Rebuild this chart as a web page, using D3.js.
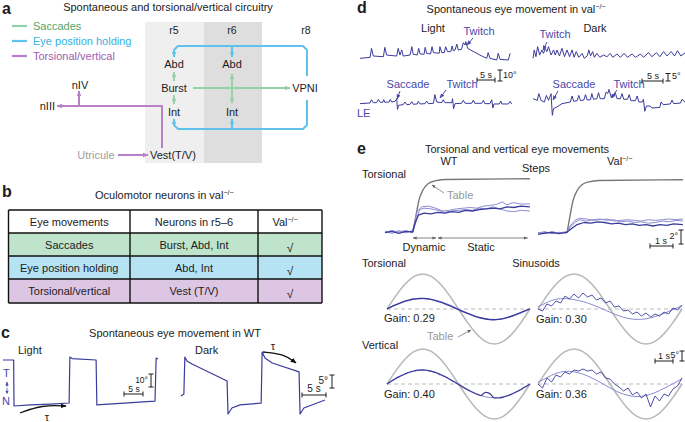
<!DOCTYPE html>
<html><head><meta charset="utf-8">
<script src="https://cdn.jsdelivr.net/npm/d3@7"></script>
<style>
html,body{margin:0;padding:0;background:#fff;}
svg text{font-family:"Liberation Sans",Arial,Helvetica,sans-serif;}
</style></head>
<body><svg id="fig" width="685" height="422"></svg>
<script>
// ================= DATA =================
// panel a
const legendItems = ["Saccades", "Eye position holding", "Torsional/vertical"];
const rhombomeres = ["r5", "r6", "r8"];
// panel b
const tableHeader = ["Eye movements", "Neurons in r5–6", "Val"];
const tableMovements = ["Saccades", "Eye position holding", "Torsional/vertical"];
const tableNeurons = ["Burst, Abd, Int", "Abd, Int", "Vest (T/V)"];
const tableValMark = ["√", "√", "√"];
// panel c : [time (s), eye position (deg)]
const wtLight = [[0,35.4],[2.8,35.4],[2.9,0],[7.1,0.8],[12.4,1.5],[17.4,2.3],[17.6,37.7],[18.2,36.5],[24.5,35.4],[24.7,0.8],[40,3.8],[40.3,36.9],[40.8,36.2]];
const wtDark = [[0,6.9],[0.6,7.7],[0.8,21.9],[1.25,20.4],[2.3,19.2],[9.6,12.7],[9.8,0],[10.6,2.3],[12.3,3.5],[16.7,4.2],[16.9,23.8],[17.5,21.5],[19,19.6],[24.6,16.2],[24.8,0],[25.6,2.3],[30,5.4]];
// panel d : [time (s), eye position (deg)]
const valLightTop = [[0,1.5],[2.8,2.4],[3.2,10.6],[3.7,3.6],[6.5,3],[6.9,11.5],[7.4,4.5],[10.2,3.6],[10.6,10.6],[11.1,4.5],[11.6,9.1],[12,3.6],[13.9,4.5],[14.4,12.1],[14.8,5.2],[15.9,4.5],[16.3,10.6],[16.7,5.5],[17.8,5.2],[18.1,11.5],[18.5,6.1],[19.6,5.5],[20,12.1],[20.4,6.7],[22,6.1],[22.2,12.1],[22.7,6.7],[23.4,6.7],[23.8,12.1],[24.3,7.6],[25.2,7.6],[25.6,12.7],[25.9,8.5],[26.4,9.1],[26.9,14.5],[27.3,9.1],[28.2,9.7],[28.7,15.8],[29.2,13.6],[29.4,16.7],[29.9,10.6],[33.3,4.5],[35.2,1.5],[35.6,6.7],[36.1,1.5],[38,0],[38.4,6.1],[38.9,0.6],[41.2,0],[41.7,6.1]];
const valLightBottom = [[0,-1.5],[2.8,-0.9],[3.2,2.1],[3.7,-0.6],[4.6,-0.6],[5.1,2.4],[5.6,-0.3],[6.3,-0.3],[6.6,2.1],[6.9,-0.3],[8.1,0],[8.4,2.4],[8.8,0],[9.7,0.6],[10.2,3],[10.4,-6.7],[10.7,-3],[12,-2.4],[12.5,0],[13,-2.4],[13.9,-2.1],[14.4,0.3],[14.8,-2.1],[15.9,-1.8],[16.2,0.6],[16.7,-1.8],[18.1,-1.5],[18.5,0.9],[19,-1.5],[20.4,-1.2],[20.8,6.7],[21.3,0],[22.7,-0.6],[23.1,2.1],[23.6,-0.6],[25.5,-0.6],[25.7,3],[26,-6.1],[26.4,-1.5],[28.2,-1.2],[28.7,1.5],[29.2,-1.2],[31,-1.2],[31.5,1.8],[31.9,-1.2],[33.8,-1.2],[34.3,1.5],[34.7,-1.5],[36.1,-1.5],[36.6,2.1],[36.9,-5.5],[37.2,-1.8],[38.7,-1.8],[39.1,0.9],[39.4,-1.8],[41.2,-1.8],[41.7,0.6],[42.1,-1.8]];
const valDarkTop = [[0,1.1],[0.3,6.7],[0.7,2.2],[1.1,8.9],[1.6,3.3],[2.1,6.7],[2.5,4.4],[2.9,7.8],[3.3,5.6],[3.7,8.9],[4.3,3.3],[4.9,6.7],[5.3,3.3],[5.7,6.7],[6.3,2.7],[6.9,7.8],[7.5,2.2],[8.1,6.7],[8.7,2.2],[9.3,6.7],[9.8,1.8],[10.3,5.6],[10.9,1.8],[11.7,4.4],[12.2,1.1],[12.9,2.7],[13.3,6.7],[13.7,2.7],[14.2,5.6],[14.6,1.8],[15.2,4.4],[15.9,1.8],[16.8,3.3],[17.6,2.2],[18.4,4.4],[19,1.8],[20,4],[20.8,1.8],[21.7,4.4],[22.5,1.8],[23.6,4],[24.4,1.8],[25.6,4],[26.3,1.8],[27.5,4.9],[28.3,2.2],[29.4,4.9],[30.2,2.2],[31.1,5.6],[31.9,2.7],[32.9,5.6],[33.7,2.7],[34.4,6.2],[35.2,2.7],[36.3,4.9]];
const valDarkBottom = [[0,2.2],[1,1.1],[1.4,5.6],[1.9,1.1],[2.7,0],[3.2,4.4],[3.7,1.1],[4,3.3],[4.3,5.6],[4.6,-8.9],[4.9,-4.4],[5.7,-3.3],[6.9,-1.1],[8.9,0],[9.3,4],[9.7,0.4],[10.5,0.9],[10.9,4.4],[11.3,0.9],[12.1,1.3],[12.5,4.9],[12.9,1.3],[13.7,1.6],[14,5.6],[14.4,1.8],[15.2,2.2],[15.6,6.2],[16,2.2],[17,2.2],[17.4,6.7],[17.8,5.6],[18.1,8.4],[18.6,3.3],[19.2,3.3],[19.6,6.2],[20,2.2],[20.8,2.2],[21.2,5.6],[21.6,1.8],[22.5,1.8],[22.9,4.9],[23.3,0.9],[24.4,0.9],[24.8,4],[25.2,0],[26,0],[26.3,1.8],[26.6,-6.2],[27,-2.7],[27.9,-2.7],[28.3,-4],[30.2,-3.6],[30.5,0],[31,-1.8],[32.7,-1.3],[33.1,1.3],[33.5,-1.1],[35.1,-0.7],[35.5,1.8],[36.3,-0.4]];
// panel e, steps : [time (s), position (deg)]
const stepTableWT = [[1.22,0],[1.35,2.4],[1.48,4.6],[1.65,6.0],[1.87,6.9],[2.17,7.3],[2.6,7.5],[6.3,7.6]];
const stepTableVal = [[1.26,0],[1.39,2.4],[1.52,4.6],[1.69,6.0],[1.91,6.9],[2.21,7.3],[2.66,7.5],[6.3,7.6]];
const stepWT1 = [[0,0.1],[0.3,-0.2],[0.6,0.2],[0.9,-0.1],[1.2,0.2],[1.3,1.5],[1.4,3],[1.6,3.6],[1.9,3.7],[2.2,3.4],[2.5,3.0],[2.8,3.1],[3.1,3.3],[3.4,3.4],[3.7,3.5],[4.0,3.4],[4.3,3.7],[4.6,3.8],[4.9,4.0],[5.1,4.3],[5.3,3.9],[5.6,4.2],[5.9,4.0],[6.3,4.0]];
const stepWT2 = [[0,-0.1],[0.3,0.1],[0.6,-0.2],[0.9,0.1],[1.2,0],[1.3,1.2],[1.45,2.4],[1.7,2.7],[2.0,2.6],[2.3,2.8],[2.6,2.7],[2.9,2.9],[3.2,2.8],[3.5,3.1],[3.8,3.0],[4.1,3.2],[4.4,3.3],[4.7,3.4],[5.0,3.3],[5.3,3.6],[5.6,3.5],[5.9,3.7],[6.3,3.6]];
const stepWT3 = [[0,0],[0.3,0.2],[0.6,0],[0.9,0.2],[1.2,-0.1],[1.35,1.5],[1.5,3.2],[1.7,3.4],[2.0,3.3],[2.3,3.1],[2.6,2.8],[2.9,3.0],[3.2,3.1],[3.5,3.2],[3.8,3.1],[4.1,3.4],[4.4,3.3],[4.7,3.6],[5.0,3.3],[5.3,3.0],[5.6,2.9],[5.9,3.1],[6.3,3.0]];
const stepVal1 = [[0,0],[0.3,0.2],[0.6,-0.1],[0.9,0.1],[1.25,0],[1.4,0.8],[1.6,1.5],[1.8,1.9],[2.1,1.7],[2.4,1.9],[2.7,2.0],[3.0,1.8],[3.3,1.9],[3.6,1.6],[3.9,1.7],[4.2,1.5],[4.5,1.6],[4.8,1.4],[5.1,1.5],[5.4,1.7],[5.7,1.6],[6.0,1.8],[6.3,1.7]];
const stepVal2 = [[0,-0.2],[0.3,0],[0.6,0.1],[0.9,-0.1],[1.25,0.1],[1.45,0.6],[1.7,1.2],[2.0,1.5],[2.3,1.4],[2.6,1.6],[2.9,1.5],[3.2,1.3],[3.5,1.4],[3.8,1.2],[4.1,1.3],[4.4,1.1],[4.7,1.2],[5.0,1.0],[5.3,1.2],[5.6,1.1],[5.9,1.3],[6.3,1.2]];
const stepVal3 = [[0,0.1],[0.3,-0.1],[0.6,0.2],[0.9,0],[1.25,0.2],[1.4,1.0],[1.6,1.8],[1.8,2.1],[2.1,2.0],[2.4,1.8],[2.7,1.9],[3.0,2.0],[3.3,1.7],[3.6,1.8],[3.9,1.9],[4.2,1.8],[4.5,1.7],[4.8,1.9],[5.1,1.8],[5.4,1.9],[5.7,2.0],[6.0,1.9],[6.3,2.0]];
// panel e, sinusoids
const sineT = [0,0.5,1,1.5,2,2.5,3,3.5,4,4.5,5,5.5,6,6.5,7,7.5,8];
const sineTable = [0,6.70,12.37,16.17,17.5,16.17,12.37,6.70,0,-6.70,-12.37,-16.17,-17.5,-16.17,-12.37,-6.70,0];
const dataT = [0,0.25,0.5,0.75,1,1.25,1.5,1.75,2,2.25,2.5,2.75,3,3.25,3.5,3.75,4,4.25,4.5,4.75,5,5.25,5.5,5.75,6,6.25,6.5,6.75,7,7.25,7.5,7.75,8];
const torWT = [0.1,1.2,2.2,3.1,3.9,4.5,5.0,5.2,5.3,5.1,4.7,4.1,3.4,2.6,1.7,0.7,-0.3,-1.3,-2.2,-3.1,-3.9,-4.5,-5.0,-5.3,-5.4,-5.2,-4.8,-4.2,-3.5,-2.6,-1.7,-0.8,0.1];
const torWTFit = [0,2.0,3.7,4.8,5.2,4.8,3.7,2.0,0,-2.0,-3.7,-4.8,-5.2,-4.8,-3.7,-2.0,0];
const verWT = [0,1.5,2.9,4.0,5.0,5.9,6.5,6.9,7.1,6.8,6.3,5.6,4.6,3.6,2.4,1.1,-0.2,-1.6,-2.9,-4.0,-5.0,-5.8,-4.2,-4.8,-6.9,-7.0,-6.6,-5.9,-5.0,-3.9,-2.7,-1.4,0];
const verWTFit = [0,2.6,4.9,6.4,6.9,6.4,4.9,2.6,0,-2.6,-4.9,-6.4,-6.9,-6.4,-4.9,-2.6,0];
const torVal = [0,-1,2.5,1.5,4.0,3.0,6.5,5.0,7.5,5.5,8.0,6.0,7.0,4.5,5.5,3.0,4.0,1.0,1.5,-1.0,-0.5,-2.5,-1.5,-3.5,-2.0,-4.0,-2.5,-3.5,-1.5,-2.5,0.5,-0.5,2.0];
const torValFit = [1.1,3.3,4.9,5.2,4.7,3.7,2.2,0.4,-1.6,-3.4,-4.7,-5.2,-4.9,-3.8,-2.2,-0.3,1.6];
const verVal = [0,-2,3,1,4.5,3.5,6,5,7,6.5,7.5,6.5,7,5.0,6.0,3.0,2.5,0,-1.5,-3.5,-2.0,-5.5,-4.0,-7.0,-5.0,-11.5,-6.0,-8.5,-5.0,-6.0,-2.5,-1.0,3.0];
const verValFit = [0.8,3.2,5.3,6.3,6.1,4.9,3.0,0.6,-1.9,-4.2,-5.7,-6.3,-5.8,-4.3,-2.2,0.2,2.6];
const gains = ["0.29", "0.30", "0.40", "0.36"];

// ================= DRAWING =================
const svg = d3.select("#fig");
const INK = "#1c1c1c", TRACE = "#3b3b9d", TRACE_L = "#8c8cd2", LABEL = "#4848aa";
const GREEN = "#93d1a6", BLUE = "#5fc2ea", PURPLE = "#b97fc8";
const defs = svg.append("defs");
function mk(id, color, w) {
  defs.append("marker").attr("id", id).attr("viewBox", "0 0 10 10")
    .attr("refX", 9).attr("refY", 5).attr("markerWidth", w).attr("markerHeight", w)
    .attr("markerUnits", "userSpaceOnUse").attr("orient", "auto-start-reverse")
    .append("path").attr("d", "M0,1 L10,5 L0,9 z").attr("fill", color);
}
mk("mG", GREEN, 6); mk("mB", BLUE, 6); mk("mP", PURPLE, 6); mk("mGray", "#999", 6);
mk("mK", "#111", 6); mk("mL", LABEL, 5); mk("mD", "#666", 4); mk("mT", LABEL, 4);

function T(x, y, s, o = {}) {
  const t = svg.append("text").attr("x", x).attr("y", y).text(s)
    .style("font-size", (o.size || 11) + "px").attr("fill", o.fill || INK)
    .attr("text-anchor", o.anchor || "start");
  if (o.weight) t.style("font-weight", o.weight);
  return t;
}
function sup(t, s) { t.append("tspan").attr("dy", -4).style("font-size", "7px").text(s); return t; }
function P(pts, color, w, o = {}) {
  const p = svg.append("path").attr("d", (o.gen || d3.line())(pts)).attr("fill", "none")
    .attr("stroke", color).attr("stroke-width", w).attr("stroke-linejoin", "round");
  if (o.end) p.attr("marker-end", `url(#${o.end})`);
  if (o.start) p.attr("marker-start", `url(#${o.start})`);
  if (o.dash) p.attr("stroke-dasharray", o.dash);
  if (o.op) p.attr("opacity", o.op);
  return p;
}
function traceLine(sx, sy, curve) { return d3.line().x(d => sx(d[0])).y(d => sy(d[1])).curve(curve || d3.curveLinear); }
function hBar(x0, len, y, col) { P([[x0, y], [x0 + len, y]], col, 1); P([[x0, y - 2.5], [x0, y + 2.5]], col, 1); P([[x0 + len, y - 2.5], [x0 + len, y + 2.5]], col, 1); }
function vBar(x, y0, len, col) { P([[x, y0], [x, y0 + len]], col, 1); P([[x - 2.5, y0], [x + 2.5, y0]], col, 1); P([[x - 2.5, y0 + len], [x + 2.5, y0 + len]], col, 1); }

// ---------- panel a ----------
T(2, 14, "a", { size: 16, weight: "bold" });
T(168, 11, "Spontaneous and torsional/vertical circuitry", { anchor: "middle" });
const legendColors = [[GREEN, "#55a466"], [BLUE, "#34b0e2"], [PURPLE, "#a05ab2"]];
legendItems.forEach((s, i) => {
  P([[12, 26 + i * 15], [27, 26 + i * 15]], legendColors[i][0], 2.2);
  T(33, 30 + i * 15, s, { fill: legendColors[i][1], size: 11 });
});
svg.append("rect").attr("x", 145).attr("y", 22).attr("width", 59).attr("height", 141).attr("fill", "#efefef");
svg.append("rect").attr("x", 204).attr("y", 22).attr("width", 58).attr("height", 141).attr("fill", "#dedede");
[174, 232, 306].forEach((x, i) => T(x, 34, rhombomeres[i], { anchor: "middle", size: 10.5 }));
// blue loop
P([[307, 76], [307, 50], [303, 46], [178, 46], [174, 50], [174, 57]], BLUE, 2, { end: "mB" });
P([[232, 46], [232, 57]], BLUE, 2, { end: "mB" });
P([[307, 100], [307, 125], [303, 129], [178, 129], [174, 125], [174, 119]], BLUE, 2, { end: "mB" });
P([[232, 129], [232, 119]], BLUE, 2, { end: "mB" });
// green
P([[174, 81], [174, 72]], GREEN, 1.8, { end: "mG" });
P([[174, 95], [174, 104]], GREEN, 1.8, { end: "mG" });
P([[193, 88], [290, 88]], GREEN, 1.8, { end: "mG" });
P([[232, 74], [232, 103]], GREEN, 1.8, { end: "mG", start: "mG" });
// purple
P([[162, 148], [162, 106], [57, 106]], PURPLE, 2, { end: "mP" });
P([[79, 106], [79, 91]], PURPLE, 2, { end: "mP" });
P([[118, 155], [148, 155]], PURPLE, 2, { end: "mP" });
T(174, 68, "Abd", { anchor: "middle" }); T(174, 92, "Burst", { anchor: "middle" }); T(174, 116, "Int", { anchor: "middle" });
T(232, 68, "Abd", { anchor: "middle" }); T(232, 116, "Int", { anchor: "middle" });
T(305, 92, "VPNI", { anchor: "middle" });
T(55, 110, "nIII", { anchor: "end" }); T(80, 89, "nIV", { anchor: "middle" });
T(96, 159, "Utricule", { anchor: "middle", fill: "#a0a0a0" });
T(150, 159, "Vest(T/V)");

// ---------- panel b ----------
T(2, 197, "b", { size: 16, weight: "bold" });
sup(T(95, 199, "Oculomotor neurons in val"), "−/−");
const colX = [8.5, 130, 258, 322], rowY = [210, 233, 256, 279, 303];
const rowFill = ["#fff", "#bfe4cc", "#b5e3f4", "#ddc5e4"];
rowFill.forEach((f, r) => svg.append("rect").attr("x", colX[0]).attr("y", rowY[r]).attr("width", colX[3] - colX[0]).attr("height", rowY[r + 1] - rowY[r]).attr("fill", f));
rowY.forEach(y => P([[colX[0], y], [colX[3], y]], "#111", 1.4));
colX.forEach(x => P([[x, rowY[0]], [x, rowY[4]]], "#111", 1.4));
const cc = [0, 1, 2].map(i => (colX[i] + colX[i + 1]) / 2);
T(cc[0], 226, tableHeader[0], { anchor: "middle" });
T(cc[1], 226, tableHeader[1], { anchor: "middle" });
sup(T(cc[2] - 5, 226, tableHeader[2], { anchor: "middle" }), "−/−");
for (let r = 0; r < 3; r++) {
  const y = rowY[r + 1] + 16;
  T(cc[0], y, tableMovements[r], { anchor: "middle" });
  T(cc[1], y, tableNeurons[r], { anchor: "middle" });
  T(cc[2], y + 3, tableValMark[r], { anchor: "middle", size: 12 });
}

// ---------- panel c ----------
T(1, 338, "c", { size: 16, weight: "bold" });
T(175, 337, "Spontaneous eye movement in WT", { anchor: "middle" });
T(18, 354, "Light"); T(195, 354, "Dark");
T(3, 377, "T", { fill: LABEL, size: 11 }); T(2, 405, "N", { fill: LABEL, size: 11 });
P([[7, 382], [7, 394]], LABEL, 1, { end: "mT", start: "mT", dash: "1.5,1.5" });
const cxL = d3.scaleLinear().domain([0, 40]).range([3, 155]);
const cyL = d3.scaleLinear().domain([0, 10]).range([406, 393]);
const cxD = d3.scaleLinear().domain([0, 30]).range([181, 325]);
const cyD = d3.scaleLinear().domain([0, 5]).range([414, 401]);
P(wtLight, TRACE, 1.2, { gen: traceLine(cxL, cyL) });
P(wtDark, TRACE, 1.2, { gen: traceLine(cxD, cyD) });
P([[20, 413], [42, 405], [66, 406]], "#111", 1.3, { end: "mK", gen: d3.line().curve(d3.curveBasis) });
T(47, 421, "τ", { anchor: "middle" });
P([[263, 352], [284, 354], [296, 363]], "#111", 1.3, { end: "mK", gen: d3.line().curve(d3.curveBasis) });
T(273, 350, "τ", { anchor: "middle" });
hBar(124, cxL(5) - cxL(0), 394, INK); T(134, 391.5, "5 s", { anchor: "middle", size: 8.5 });
vBar(151, 374, cyL(0) - cyL(10), INK); T(148, 382.5, "10°", { anchor: "end", size: 8.5 });
hBar(302, cxD(5) - cxD(0), 395, INK); T(314, 392, "5 s", { anchor: "middle", size: 10 });
vBar(332, 375, cyD(0) - cyD(5), INK); T(328, 384, "5°", { anchor: "end", size: 10 });

// ---------- panel d ----------
T(357, 13, "d", { size: 16, weight: "bold" });
T(516, 13, "Spontaneous eye movement in val", { anchor: "middle" }).call(t => sup(t, "−/−"));
T(433, 32, "Light", { anchor: "middle" }); T(595, 32, "Dark", { anchor: "middle" });
const dxL = d3.scaleLinear().domain([0, 10]).range([360, 396]);
const dyLT = d3.scaleLinear().domain([0, 10]).range([60, 49]);
const dyLB = d3.scaleLinear().domain([0, 10]).range([102, 91]);
const dxD = d3.scaleLinear().domain([0, 10]).range([533, 575]);
const dyDT = d3.scaleLinear().domain([0, 5]).range([60, 52.5]);
const dyDB = d3.scaleLinear().domain([0, 5]).range([102, 94.5]);
P(valLightTop, TRACE, 1, { gen: traceLine(dxL, dyLT) });
P(valLightBottom, TRACE, 1, { gen: traceLine(dxL, dyLB) });
P(valDarkTop, TRACE, 1, { gen: traceLine(dxD, dyDT) });
P(valDarkBottom, TRACE, 1, { gen: traceLine(dxD, dyDB) });
T(479, 35, "Twitch", { anchor: "middle", fill: LABEL }); P([[473, 38], [467, 45]], LABEL, 1, { end: "mL" });
T(555, 38, "Twitch", { anchor: "middle", fill: LABEL }); P([[547, 42], [543, 50]], LABEL, 1, { end: "mL" });
T(408, 88, "Saccade", { anchor: "middle", fill: LABEL }); P([[400, 91], [397, 99]], LABEL, 1, { end: "mL" });
T(462, 88, "Twitch", { anchor: "middle", fill: LABEL }); P([[446, 90], [440, 98]], LABEL, 1, { end: "mL" });
T(574, 88, "Saccade", { anchor: "middle", fill: LABEL }); P([[558, 91], [553, 100]], LABEL, 1, { end: "mL" });
T(629, 88, "Twitch", { anchor: "middle", fill: LABEL }); P([[617, 90], [611, 98]], LABEL, 1, { end: "mL" });
T(357, 117, "LE", { fill: LABEL });
hBar(477, dxL(5) - dxL(0), 80, INK); T(486, 78, "5 s", { anchor: "middle", size: 9 });
vBar(500, 70, dyLT(0) - dyLT(10), INK); T(503, 78, "10°", { size: 9 });
hBar(642, dxD(5) - dxD(0), 81, INK); T(653, 79, "5 s", { anchor: "middle", size: 9 });
vBar(668, 73.5, dyDT(0) - dyDT(5), INK); T(672, 79, "5°", { size: 9 });

// ---------- panel e : steps ----------
T(357, 154, "e", { size: 16, weight: "bold" });
T(517, 153, "Torsional and vertical eye movements", { anchor: "middle" });
T(449, 165, "WT", { anchor: "middle" });
T(536, 172, "Steps", { anchor: "middle" });
sup(T(607, 165, "Val"), "−/−");
T(362, 178, "Torsional");
const exW = d3.scaleLinear().domain([0, 1]).range([385, 408]);
const exV = d3.scaleLinear().domain([0, 1]).range([538, 561]);
const eyW = d3.scaleLinear().domain([0, 2]).range([232, 218]);
const eyV = d3.scaleLinear().domain([0, 2]).range([233, 219]);
P(stepTableWT, "#777", 1.4, { gen: traceLine(exW, eyW, d3.curveMonotoneX) });
P(stepTableVal, "#777", 1.4, { gen: traceLine(exV, eyV, d3.curveMonotoneX) });
P(stepWT1, TRACE_L, 1, { gen: traceLine(exW, eyW) });
P(stepWT3, TRACE_L, 1, { gen: traceLine(exW, eyW) });
P(stepWT2, TRACE, 1.3, { gen: traceLine(exW, eyW) });
P(stepVal1, TRACE_L, 1, { gen: traceLine(exV, eyV) });
P(stepVal3, TRACE_L, 1, { gen: traceLine(exV, eyV) });
P(stepVal2, TRACE, 1.3, { gen: traceLine(exV, eyV) });
T(447, 199, "Table", { fill: "#999" }); P([[444, 193], [432, 185]], "#888", 0.9, { end: "mD" });
P([[exW(1.22), 238], [436, 238]], "#666", 0.8, { end: "mD", start: "mD" });
P([[438, 238], [exW(6.2), 238]], "#666", 0.8, { end: "mD", start: "mD" });
T(424, 251, "Dynamic", { anchor: "middle" }); T(481, 251, "Static", { anchor: "middle" });
hBar(650, exV(1) - exV(0), 246, INK); T(661, 244, "1 s", { anchor: "middle", size: 9 });
vBar(681, 230, eyV(0) - eyV(2), INK); T(678, 239, "2°", { anchor: "end", size: 9 });

// ---------- panel e : sinusoids ----------
T(362, 267, "Torsional"); T(536, 267, "Sinusoids", { anchor: "middle" });
T(362, 349, "Vertical");
const sxW = d3.scaleLinear().domain([0, 8]).range([387, 530]);
const sxV = d3.scaleLinear().domain([0, 8]).range([538, 682]);
const syTor = d3.scaleLinear().domain([0, 5]).range([309, 299]);
const syVer = d3.scaleLinear().domain([0, 5]).range([384, 374]);
const tbl = sineT.map((t, i) => [t, sineTable[i]]);
const zip = (ts, vs) => ts.map((t, i) => [t, vs[i]]);
[[sxW, syTor], [sxV, syTor], [sxW, syVer], [sxV, syVer]].forEach(([sx, sy]) => {
  P([[sx(0), sy(0)], [sx(8), sy(0)]], "#bbb", 1, { dash: "4,3" });
  P(tbl, "#b9b9b9", 1.6, { gen: traceLine(sx, sy, d3.curveNatural) });
});
P(zip(sineT, torWTFit), TRACE_L, 1, { gen: traceLine(sxW, syTor, d3.curveNatural) });
P(zip(dataT, torWT), TRACE, 1.4, { gen: traceLine(sxW, syTor, d3.curveNatural) });
P(zip(sineT, verWTFit), TRACE_L, 1, { gen: traceLine(sxW, syVer, d3.curveNatural) });
P(zip(dataT, verWT), TRACE, 1.2, { gen: traceLine(sxW, syVer, d3.curveMonotoneX) });
P(zip(sineT, torValFit), TRACE_L, 1, { gen: traceLine(sxV, syTor, d3.curveNatural) });
P(zip(dataT, torVal), TRACE, 0.9, { gen: traceLine(sxV, syTor) });
P(zip(sineT, verValFit), TRACE_L, 1, { gen: traceLine(sxV, syVer, d3.curveNatural) });
P(zip(dataT, verVal), TRACE, 0.9, { gen: traceLine(sxV, syVer) });
T(384, 322, "Gain: " + gains[0]); T(536, 323, "Gain: " + gains[1]);
T(384, 398, "Gain: " + gains[2]); T(536, 398, "Gain: " + gains[3]);
T(427, 340, "Table", { fill: "#999" }); P([[458, 337], [471, 330]], "#888", 0.9, { end: "mD" });
hBar(655, sxV(1) - sxV(0), 361, INK); T(664, 359, "1 s", { anchor: "middle", size: 9 });
vBar(682, 351, syTor(0) - syTor(5), INK); T(679, 358, "5°", { anchor: "end", size: 9 });
</script></body></html>
